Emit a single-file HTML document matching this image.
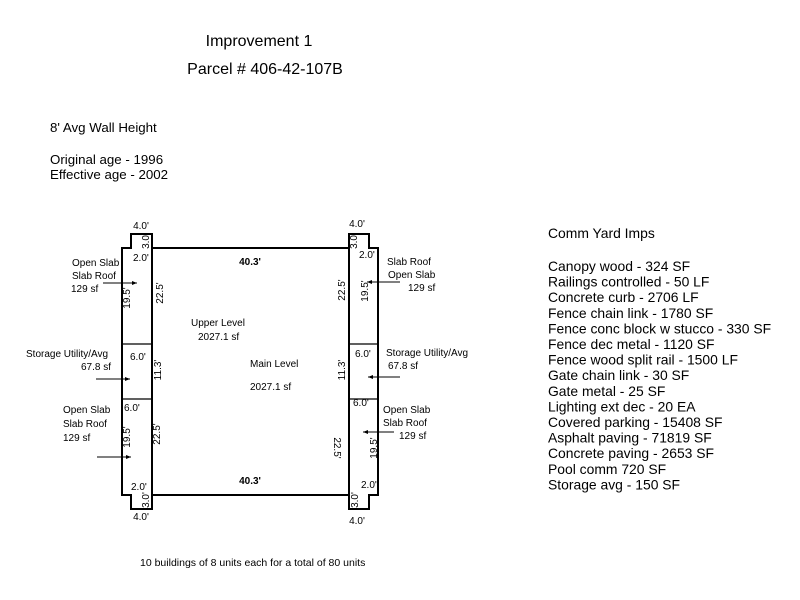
<!DOCTYPE html>
<html><head><style>body{margin:0;background:#fff}svg{display:block}text{font-family:"Liberation Sans",Arial,sans-serif;fill:#000}</style></head><body>
<svg width="800" height="600" viewBox="0 0 800 600" xmlns="http://www.w3.org/2000/svg">
<defs><marker id="a" markerWidth="6" markerHeight="6" refX="5" refY="3" orient="auto"><path d="M0,1 L5,3 L0,5 z" fill="#000"/></marker></defs>
<g font-size="16"><text x="259" y="46" text-anchor="middle">Improvement 1</text><text x="265" y="74" text-anchor="middle">Parcel # 406-42-107B</text></g>
<g font-size="13.3"><text x="50" y="132">8' Avg Wall Height</text><text x="50" y="164">Original age - 1996</text><text x="50" y="179">Effective age - 2002</text></g>
<g font-size="13.9"><text x="548" y="238">Comm Yard Imps</text>
<text x="548" y="271">Canopy wood - 324 SF</text><text x="548" y="286.6">Railings controlled - 50 LF</text><text x="548" y="302.2">Concrete curb - 2706 LF</text><text x="548" y="317.8">Fence chain link - 1780 SF</text><text x="548" y="333.4">Fence conc block w stucco - 330 SF</text><text x="548" y="349">Fence dec metal - 1120 SF</text><text x="548" y="364.6">Fence wood split rail - 1500 LF</text><text x="548" y="380.2">Gate chain link - 30 SF</text><text x="548" y="395.8">Gate metal - 25 SF</text><text x="548" y="411.4">Lighting ext dec - 20 EA</text><text x="548" y="427">Covered parking - 15408 SF</text><text x="548" y="442.6">Asphalt paving - 71819 SF</text><text x="548" y="458.2">Concrete paving - 2653 SF</text><text x="548" y="473.8">Pool comm 720 SF</text><text x="548" y="489.4">Storage avg - 150 SF</text></g>
<g fill="none" stroke="#000" stroke-width="2">
<path d="M152,248 L349,248 M152,495 L349,495"/>
<path d="M131,234 L152,234 L152,509 L131,509 L131,495 L122,495 L122,248 L131,248 Z"/>
<path d="M349,234 L369,234 L369,248 L378,248 L378,495 L369,495 L369,509 L349,509 Z"/>
<path d="M122,344 L152,344 M122,399 L152,399 M349,344 L378,344 M349,399 L378,399" stroke-width="1.2"/>
</g>
<g stroke="#000" stroke-width="1" marker-end="url(#a)">
<line x1="103" y1="283" x2="137" y2="283"/><line x1="96" y1="379" x2="130" y2="379"/><line x1="97" y1="457" x2="131" y2="457"/>
<line x1="400" y1="282" x2="367" y2="282"/><line x1="400" y1="377" x2="368" y2="377"/><line x1="394" y1="432" x2="363" y2="432"/>
</g>
<g font-size="10">
<text x="141" y="229" text-anchor="middle">4.0'</text><text x="141" y="520" text-anchor="middle">4.0'</text>
<text x="357" y="227" text-anchor="middle">4.0'</text><text x="357" y="524" text-anchor="middle">4.0'</text>
<text x="133" y="261">2.0'</text><text x="131" y="490">2.0'</text><text x="359" y="258">2.0'</text><text x="361" y="488">2.0'</text>
<text x="130" y="360">6.0'</text><text x="124" y="411">6.0'</text><text x="355" y="357">6.0'</text><text x="353" y="406">6.0'</text>
<text transform="translate(149,241) rotate(-90)" text-anchor="middle">3.0'</text>
<text transform="translate(149,500) rotate(-90)" text-anchor="middle">3.0'</text>
<text transform="translate(357,241) rotate(-90)" text-anchor="middle">3.0'</text>
<text transform="translate(358,500) rotate(-90)" text-anchor="middle">3.0'</text>
<text transform="translate(130,298) rotate(-90)" text-anchor="middle">19.5'</text>
<text transform="translate(163,293) rotate(-90)" text-anchor="middle">22.5'</text>
<text transform="translate(161,370) rotate(-90)" text-anchor="middle">11.3'</text>
<text transform="translate(130,437) rotate(-90)" text-anchor="middle">19.5'</text>
<text transform="translate(160,434) rotate(-90)" text-anchor="middle">22.5'</text>
<text transform="translate(345,290) rotate(-90)" text-anchor="middle">22.5'</text>
<text transform="translate(368,291) rotate(-90)" text-anchor="middle">19.5'</text>
<text transform="translate(345,370) rotate(-90)" text-anchor="middle">11.3'</text>
<text transform="translate(334,448) rotate(90)" text-anchor="middle">22.5'</text>
<text transform="translate(377,448) rotate(-90)" text-anchor="middle">19.5'</text>
<text x="250" y="265" text-anchor="middle" font-weight="bold">40.3'</text>
<text x="250" y="484" text-anchor="middle" font-weight="bold">40.3'</text>
<text x="72" y="266">Open Slab</text><text x="72" y="279">Slab Roof</text><text x="71" y="292">129 sf</text>
<text x="26" y="357">Storage Utility/Avg</text><text x="81" y="370">67.8 sf</text>
<text x="63" y="413">Open Slab</text><text x="63" y="427">Slab Roof</text><text x="63" y="441">129 sf</text>
<text x="387" y="265">Slab Roof</text><text x="388" y="278">Open Slab</text><text x="408" y="291">129 sf</text>
<text x="386" y="356">Storage Utility/Avg</text><text x="388" y="369">67.8 sf</text>
<text x="383" y="413">Open Slab</text><text x="383" y="426">Slab Roof</text><text x="399" y="439">129 sf</text>
<text x="191" y="326">Upper Level</text><text x="198" y="340">2027.1 sf</text>
<text x="250" y="367">Main Level</text><text x="250" y="390">2027.1 sf</text>
<text x="140" y="566" font-size="10.5">10 buildings of 8 units each for a total of 80 units</text>
</g>
</svg>
</body></html>
